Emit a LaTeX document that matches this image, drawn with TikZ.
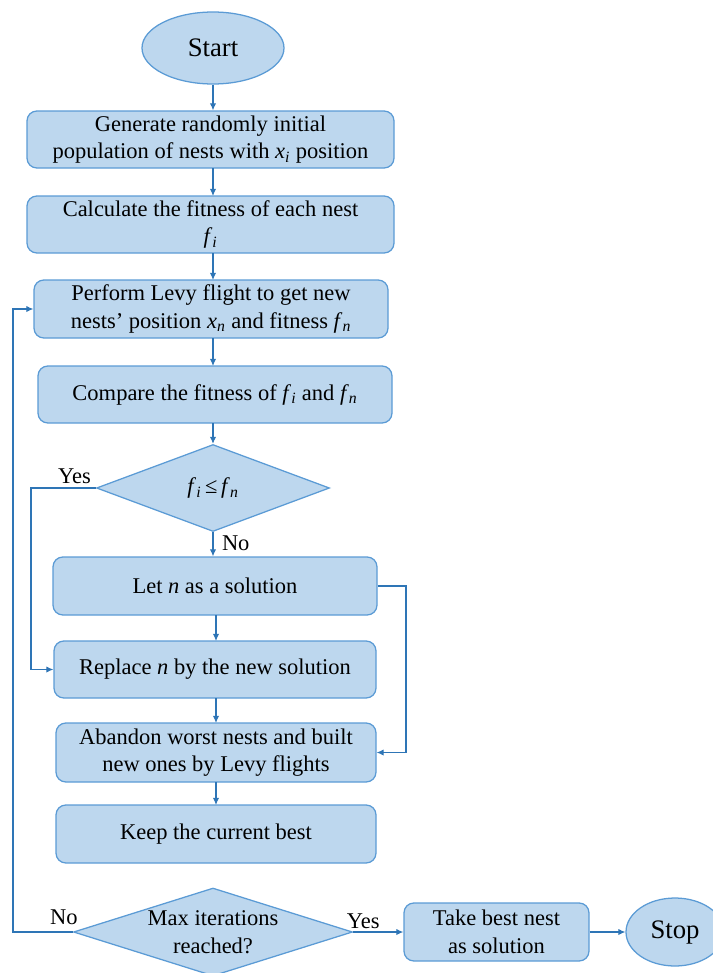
\documentclass[tikz,border=0pt]{standalone}
\usepackage{fontspec}
\setmainfont{Liberation Serif}
\usepackage{xcolor}
\usepackage{tikz}
\usetikzlibrary{shapes.geometric,arrows.meta}

\definecolor{boxfill}{HTML}{BDD7EE}
\definecolor{boxline}{HTML}{5B9BD5}
\definecolor{flowline}{HTML}{2E75B6}
\newcommand{\vsub}[2]{\textit{#1}\textsubscript{\textit{#2}}}

\tikzset{
    stepbox/.style={draw=boxline, fill=boxfill, line width=0.9pt, rounded corners=7pt,
        align=center, inner sep=1pt},
    termbox/.style={draw=boxline, fill=boxfill, line width=0.9pt, ellipse, inner sep=0pt,
        font=\fontsize{19}{22}\selectfont},
    testbox/.style={draw=boxline, fill=boxfill, line width=0.9pt, diamond, inner sep=0pt},
    arr/.style={draw=flowline, line width=0.8pt, -{Latex[length=5pt,width=4.5pt]}},
    lbl/.style={inner sep=1pt}
}

\begin{document}
\begin{tikzpicture}[x=0.025cm, y=-0.025cm, font=\fontsize{16}{19.5}\selectfont]
    \useasboundingbox (0,0) rectangle (712,973);

    \node[termbox, minimum width=142*0.025cm, minimum height=72*0.025cm] (start) at (213,48) {Start};
    \node[stepbox, minimum width=367*0.025cm, minimum height=57*0.025cm] (gen) at (210.5,139.5)
        {Generate randomly initial\\ population of nests with \vsub{x}{i} position};
    \node[stepbox, minimum width=367*0.025cm, minimum height=57*0.025cm] (calc) at (210.5,224.5)
        {Calculate the fitness of each nest\\ \vsub{f}{i}};
    \node[stepbox, minimum width=354*0.025cm, minimum height=58*0.025cm] (levy) at (211,309)
        {Perform Levy flight to get new\\ nests' position \vsub{x}{n} and fitness \vsub{f}{n}};
    \node[stepbox, minimum width=354*0.025cm, minimum height=57*0.025cm] (comp) at (215,394.5)
        {Compare the fitness of \vsub{f}{i} and \vsub{f}{n}};
    \node[testbox, minimum width=233*0.025cm, minimum height=87*0.025cm,
        label={center:\vsub{f}{i}\,≤\,\vsub{f}{n}}] (dec1) at (213,488) {};
    \node[stepbox, minimum width=324*0.025cm, minimum height=58*0.025cm] (letn) at (215,586)
        {Let \textit{n} as a solution};
    \node[stepbox, minimum width=322*0.025cm, minimum height=57*0.025cm] (repl) at (215,669.5)
        {Replace \textit{n} by the new solution};
    \node[stepbox, minimum width=320*0.025cm, minimum height=59*0.025cm] (aband) at (216,752.5)
        {Abandon worst nests and built\\ new ones by Levy flights};
    \node[stepbox, minimum width=320*0.025cm, minimum height=58*0.025cm] (keep) at (216,834)
        {Keep the current best};
    \node[testbox, minimum width=279*0.025cm, minimum height=88*0.025cm,
        label={[align=center]center:Max iterations\\ reached?}] (dec2) at (213,932) {};
    \node[stepbox, minimum width=185*0.025cm, minimum height=58*0.025cm] (take) at (496.5,932)
        {Take best nest\\ as solution};
    \node[termbox, minimum width=98*0.025cm, minimum height=68*0.025cm] (stop) at (675,932) {Stop};

    \coordinate (yesturn) at (31,488);
    \coordinate (rloop) at (406,586);
    \coordinate (lloop) at (13,932);

    \draw[arr] (start) -- (start |- gen.north);
    \draw[arr] (213,168) -- (213,196);
    \draw[arr] (213,253) -- (213,280);
    \draw[arr] (213,338) -- (213,366);
    \draw[arr] (213,423) -- (dec1.north);
    \draw[arr] (dec1.south) -- (dec1.south |- letn.north) node[lbl, pos=0.45, right=5pt] {No};
    \draw[arr] (dec1.west) -- (yesturn) node[lbl, pos=0.33, above=2pt] {Yes} |- (repl.west);
    \draw[arr] (letn.east) -- (rloop) |- (aband.east);
    \draw[arr] (216,615) -- (216,641);
    \draw[arr] (216,698) -- (216,723);
    \draw[arr] (216,782) -- (216,805);
    \draw[arr] (dec2.west) -- (lloop) node[lbl, pos=0.15, above=4pt] {No} |- (levy.west);
    \draw[arr] (dec2.east) -- (take.west) node[lbl, pos=0.2, above=1pt] {Yes};
    \draw[arr] (take.east) -- (stop.west);

\end{tikzpicture}
\end{document}
